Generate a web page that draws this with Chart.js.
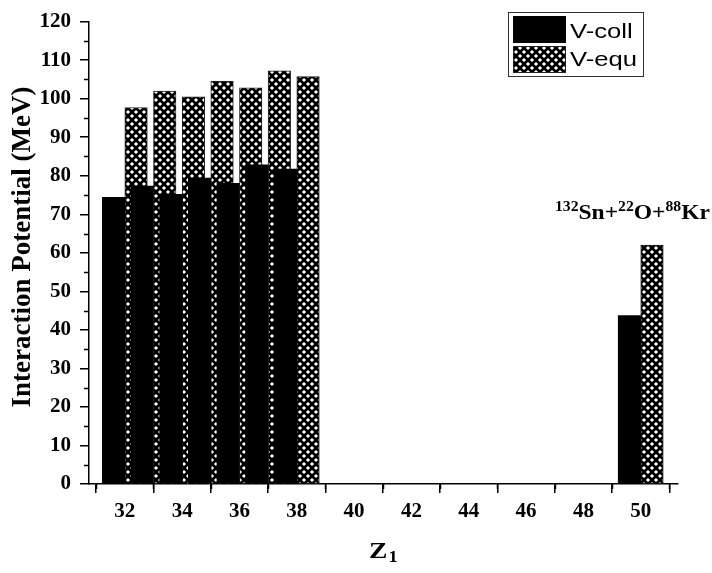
<!DOCTYPE html>
<html><head><meta charset="utf-8">
<script src="https://cdn.jsdelivr.net/npm/chart.js@4"></script>
<style>html,body{margin:0;padding:0;background:#fff;overflow:hidden}</style>
</head><body>
<canvas id="c" width="712" height="573" style="width:712px;height:573px;display:block"></canvas>
<script>
// ---- data ----
const z1 = [32, 33, 34, 35, 36, 37, 38, 50];
const vColl = [74.4, 77.3, 75.2, 79.4, 78.0, 82.8, 81.7, 43.7];
const vEqu = [97.7, 102.0, 100.5, 104.5, 102.8, 107.2, 105.7, 62.0];
const seriesNames = ['V-coll', 'V-equ'];
const xTickValues = [32, 34, 36, 38, 40, 42, 44, 46, 48, 50];
const xMinorValues = [31, 33, 35, 37, 39, 41, 43, 45, 47, 49, 51];
const yMinorValues = [5, 15, 25, 35, 45, 55, 65, 75, 85, 95, 105, 115];
const yTitle = 'Interaction Potential (MeV)';
const annotationParts = [['132', true], ['Sn+', false], ['22', true], ['O+', false], ['88', true], ['Kr', false]];

// ---- hatch pattern ----
function makePattern() {
  const p = document.createElement('canvas');
  p.width = 8; p.height = 8;
  const g = p.getContext('2d');
  g.fillStyle = '#000'; g.fillRect(0, 0, 8, 8);
  g.fillStyle = '#fff';
  const r = 2.1;
  const centers = [[4, 4], [0, 0], [8, 0], [0, 8], [8, 8]];
  for (const [cx, cy] of centers) {
    g.beginPath();
    g.moveTo(cx, cy - r); g.lineTo(cx + r, cy); g.lineTo(cx, cy + r); g.lineTo(cx - r, cy);
    g.closePath(); g.fill();
  }
  return g.createPattern(p, 'repeat');
}
const ctx0 = document.getElementById('c').getContext('2d');
const hatch = makePattern();

const serif = "'Liberation Serif','Times New Roman',serif";
const sans = "'Liberation Sans',Arial,sans-serif";
const tickFont = { family: serif, size: 21, weight: 'bold' };

function sText(ctx, txt, x, y, sx) {
  ctx.save(); ctx.translate(x, y); ctx.scale(sx, 1); ctx.fillText(txt, 0, 0); ctx.restore();
  return ctx.measureText(txt).width * sx;
}

const decor = {
  id: 'decor',
  afterDraw(chart) {
    const ctx = chart.ctx;
    const xs = chart.scales.x, ys = chart.scales.y;
    const ca = chart.chartArea;
    ctx.save();
    // minor ticks
    ctx.strokeStyle = '#000'; ctx.lineWidth = 1.5;
    ctx.beginPath();
    for (const v of xMinorValues) {
      const px = Math.round(xs.getPixelForValue(v)) + 0.5;
      ctx.moveTo(px, ca.bottom); ctx.lineTo(px, ca.bottom + 5);
    }
    for (const v of yMinorValues) {
      const py = Math.round(ys.getPixelForValue(v)) + 0.5;
      ctx.moveTo(ca.left - 5, py); ctx.lineTo(ca.left, py);
    }
    ctx.stroke();

    // legend
    ctx.lineWidth = 1; ctx.strokeStyle = '#333';
    ctx.strokeRect(508.5, 12.5, 135, 64);
    ctx.fillStyle = '#000'; ctx.fillRect(513, 16, 53, 27);
    ctx.fillStyle = hatch; ctx.fillRect(513, 46, 53, 27);
    ctx.strokeStyle = '#222'; ctx.strokeRect(513.5, 46.5, 52, 26);
    ctx.fillStyle = '#000';
    ctx.font = '20px ' + sans; ctx.textBaseline = 'alphabetic'; ctx.textAlign = 'left';
    sText(ctx, seriesNames[0], 570, 37.5, 1.28);
    sText(ctx, seriesNames[1], 570, 66, 1.28);

    // annotation 132Sn+22O+88Kr
    let x = 555;
    for (const [t, sup] of annotationParts) {
      ctx.font = 'bold ' + (sup ? 14 : 21) + 'px ' + serif;
      x += sText(ctx, t, x, sup ? 211 : 219, 1.12);
    }

    // x title Z1
    ctx.font = 'bold 24px ' + serif;
    const w = sText(ctx, 'Z', 369, 558, 1.15);
    ctx.font = 'bold 16px ' + serif;
    sText(ctx, '1', 369 + w + 1, 562, 1.15);

    // y title
    ctx.save();
    ctx.translate(23, 247); ctx.rotate(-Math.PI / 2);
    ctx.font = 'bold 27px ' + serif; ctx.textAlign = 'center'; ctx.textBaseline = 'middle';
    ctx.fillText(yTitle, 0, 0);
    ctx.restore();
    ctx.restore();
  }
};

new Chart(ctx0, {
  type: 'bar',
  data: {
    datasets: [
      { label: seriesNames[0], data: z1.map((x, i) => ({ x, y: vColl[i] })),
        backgroundColor: '#000', borderWidth: 0, barThickness: 22.5 },
      { label: seriesNames[1], data: z1.map((x, i) => ({ x, y: vEqu[i] })),
        backgroundColor: hatch, borderColor: '#222', borderWidth: 1, barThickness: 22.5 }
    ]
  },
  options: {
    responsive: false, animation: false, devicePixelRatio: 1,
    layout: { padding: { top: 10, right: 34, left: 0, bottom: 0 } },
    plugins: { legend: { display: false }, tooltip: { enabled: false } },
    scales: {
      x: {
        type: 'linear', min: 30.75, max: 51.3, offset: false,
        grid: { display: true, drawOnChartArea: false, drawTicks: true, tickLength: 9, color: '#000', lineWidth: 1.5 },
        border: { display: true, color: '#000', width: 1.5 },
        afterBuildTicks: s => { s.ticks = xTickValues.map(v => ({ value: v })); },
        ticks: { font: tickFont, color: '#000', padding: 6, maxRotation: 0, autoSkip: false, callback: v => String(v) },
        afterFit: s => { s.height = 89; }
      },
      y: {
        min: 0, max: 120,
        grid: { display: true, drawOnChartArea: false, drawTicks: true, tickLength: 9, color: '#000', lineWidth: 1.5 },
        border: { display: true, color: '#000', width: 1.5 },
        ticks: { stepSize: 10, font: tickFont, color: '#000', padding: 9 },
        afterFit: s => { s.width = 89; }
      }
    }
  },
  plugins: [decor]
});
</script>
</body></html>
